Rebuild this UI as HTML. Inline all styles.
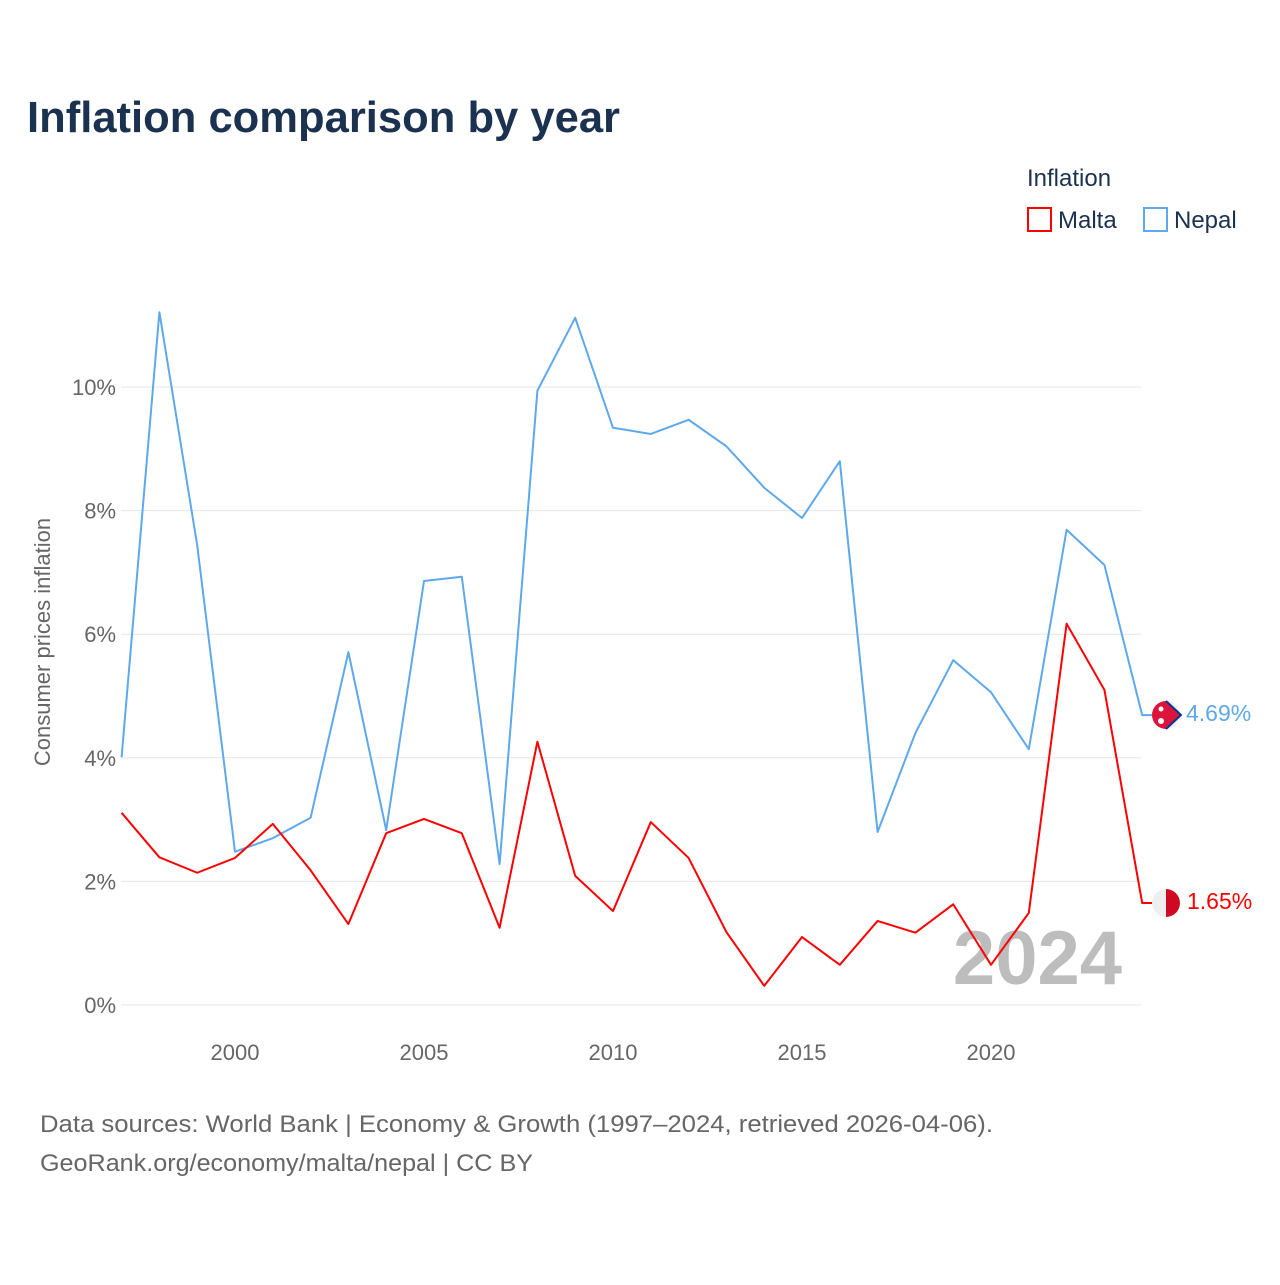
<!DOCTYPE html>
<html><head><meta charset="utf-8"><style>
body{margin:0;background:#fff;font-family:"Liberation Sans",sans-serif}
svg text{font-family:"Liberation Sans",sans-serif}
</style></head><body>
<svg id="chart" width="1280" height="1280" xmlns="http://www.w3.org/2000/svg">
<rect width="1280" height="1280" fill="#fff"/>
<text x="27" y="132" font-size="44" font-weight="bold" fill="#1b3150" textLength="593" lengthAdjust="spacingAndGlyphs">Inflation comparison by year</text>
<g>
<text x="1027" y="186" font-size="24" fill="#1b3150">Inflation</text>
<rect x="1028" y="208" width="23" height="23" fill="none" stroke="#ff0000" stroke-width="2"/>
<text x="1058" y="228" font-size="24" fill="#1b3150">Malta</text>
<rect x="1144" y="208" width="23" height="23" fill="none" stroke="#5ea8ec" stroke-width="2"/>
<text x="1174" y="228" font-size="24" fill="#1b3150">Nepal</text>
</g>
<text transform="translate(50,642) rotate(-90)" text-anchor="middle" font-size="22" fill="#666">Consumer prices inflation</text>
<g id="grid"></g>
<g id="xt"></g>
<text x="1122" y="984" text-anchor="end" font-size="76" font-weight="bold" fill="#bdbdbd">2024</text>
<g id="lines"></g>
<g>
<circle cx="1166" cy="715" r="14" fill="#eee"/>
<path d="M1166 701 L1181 715 L1166 729 A14 14 0 0 1 1166 701Z" fill="#dc143c"/>
<path d="M1166 701 L1181 715 L1166 729" fill="none" stroke="#003893" stroke-width="2"/>
<circle cx="1161" cy="709" r="2.5" fill="#fff"/><circle cx="1161" cy="721" r="3" fill="#fff"/>
</g>
<text x="1186" y="721" font-size="23" fill="#5ea8ec">4.69%</text>
<g>
<circle cx="1166" cy="903" r="14" fill="#eee"/>
<path d="M1166 889 A14 14 0 0 1 1166 917Z" fill="#cf0921"/>
</g>
<text x="1187" y="909" font-size="23" fill="#ff0000">1.65%</text>
<text x="40" y="1132" font-size="24" fill="#666" textLength="953" lengthAdjust="spacingAndGlyphs">Data sources: World Bank | Economy &amp; Growth (1997–2024, retrieved 2026-04-06).</text>
<text x="40" y="1171" font-size="24" fill="#666" textLength="493" lengthAdjust="spacingAndGlyphs">GeoRank.org/economy/malta/nepal | CC BY</text>
</svg>
<script>
const years=[1997,1998,1999,2000,2001,2002,2003,2004,2005,2006,2007,2008,2009,2010,2011,2012,2013,2014,2015,2016,2017,2018,2019,2020,2021,2022,2023,2024];
const nepal=[4.01,11.21,7.44,2.48,2.70,3.03,5.71,2.83,6.86,6.93,2.28,9.94,11.12,9.34,9.24,9.47,9.04,8.37,7.88,8.80,2.80,4.40,5.58,5.06,4.14,7.69,7.12,4.69];
const malta=[3.11,2.39,2.14,2.38,2.93,2.18,1.31,2.78,3.01,2.78,1.25,4.26,2.09,1.52,2.96,2.38,1.18,0.31,1.10,0.65,1.36,1.17,1.63,0.65,1.49,6.17,5.10,1.65];
const yTicks=[0,2,4,6,8,10];
const xTicks=[2000,2005,2010,2015,2020];
const X=y=>121.6+(y-1997)*37.8, Y=v=>1005-v*61.8;
const NS='http://www.w3.org/2000/svg';
function mk(t,a,p){const e=document.createElementNS(NS,t);for(const k in a)e.setAttribute(k,a[k]);p.appendChild(e);return e;}
const g=document.getElementById('grid');
yTicks.forEach(v=>{
 const l=mk('line',{x1:121,x2:1141,y1:Y(v),y2:Y(v),stroke:'#e6e6e6','stroke-width':1},g);
 
 
 const t=mk('text',{x:116,y:Y(v)+8,'text-anchor':'end','font-size':22,fill:'#666'},g);
 t.textContent=v+'%';
 
 
});
const xt=document.getElementById('xt');
xTicks.forEach(y=>{
 const t=mk('text',{x:X(y),y:1060,'text-anchor':'middle','font-size':22,fill:'#666'},xt);
 t.textContent=y;
 
 
});
const lg=document.getElementById('lines');
[[nepal,'#5ea8ec','nepal-line'],[malta,'#ff0000','malta-line']].forEach(([d,c,n])=>{
 let pts=d.map((v,i)=>X(years[i])+','+Y(v));
 pts.push((X(years[years.length-1])+12)+','+Y(d[d.length-1]));
 const p=mk('polyline',{points:pts.join(' '),fill:'none',stroke:c,'stroke-width':2,'stroke-linejoin':'round'},lg);
 
 
});
</script>
</body></html>
